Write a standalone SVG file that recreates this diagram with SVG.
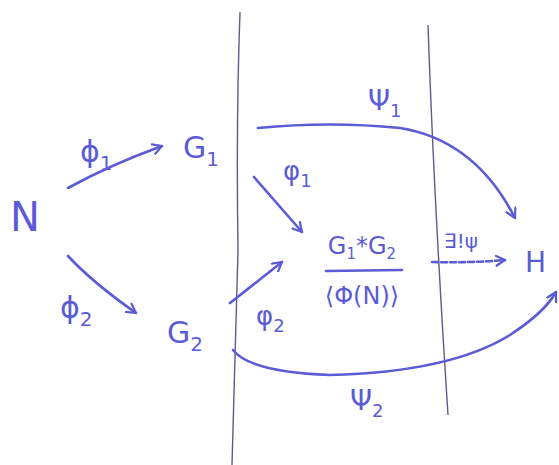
<svg xmlns="http://www.w3.org/2000/svg" width="559" height="465" viewBox="0 0 559 465">
<defs>
<marker id="ah" viewBox="0 0 12 12" refX="10" refY="6" markerWidth="12" markerHeight="12" markerUnits="userSpaceOnUse" orient="auto">
<path d="M1,1 L10,6 L1,11" fill="none" stroke="#5b5bd6" stroke-width="2.2" stroke-linecap="round" stroke-linejoin="round"/>
</marker>
</defs>
<style>
.t{font-family:"DejaVu Sans","Liberation Sans",sans-serif;fill:#5b5bd6;}
.c{fill:none;stroke:#5b5bd6;stroke-width:2.6;stroke-linecap:round;}
.v{fill:none;stroke:#5d5d8a;stroke-width:1.4;}
</style>
<rect width="559" height="465" fill="#ffffff"/>
<g id="borders">
<path class="v" d="M240,12 Q236,120 238,250 Q235,360 232,465"/>
<path class="v" d="M428,25 Q434,200 448,415"/>
</g>
<g id="connectors">
<path class="c" d="M68,188 Q110,165 162,146" marker-end="url(#ah)"/>
<path class="c" d="M68,256 Q92,282 136,313" marker-end="url(#ah)"/>
<path class="c" d="M258,128 Q330,121 400,128 Q475,140 515,218" marker-end="url(#ah)"/>
<path class="c" d="M254,177 L302,232" marker-end="url(#ah)"/>
<path class="c" d="M230,303 L282,262" marker-end="url(#ah)"/>
<path class="c" d="M233,350 Q250,372 330,375 Q450,372 510,335 Q545,312 556,292" marker-end="url(#ah)"/>
<path class="c" d="M432,262 Q470,263 505,260" stroke-dasharray="6,3" marker-end="url(#ah)"/>
<path class="c" d="M326,271 L402,270" stroke-width="2.2"/>
</g>
<g id="N"><text class="t" x="10" y="231" font-size="40">N</text></g>
<g id="G1"><text class="t" x="183" y="158" font-size="30">G<tspan font-size="20" dy="8">1</tspan></text></g>
<g id="G2"><text class="t" x="167" y="343" font-size="30">G<tspan font-size="20" dy="8">2</tspan></text></g>
<g id="H"><text class="t" x="525" y="272" font-size="28">H</text></g>
<g id="quotient">
<text class="t" x="362" y="254" font-size="24" text-anchor="middle">G<tspan font-size="15" dy="5">1</tspan><tspan dy="-5">*G</tspan><tspan font-size="15" dy="5">2</tspan></text>
<text class="t" x="362" y="304" font-size="24" text-anchor="middle">⟨Φ(N)⟩</text>
</g>
<g id="labels">
<text class="t" x="80" y="162" font-size="30">ϕ<tspan font-size="20" dy="8">1</tspan></text>
<text class="t" x="60" y="318" font-size="30">ϕ<tspan font-size="20" dy="8">2</tspan></text>
<text class="t" x="283" y="180" font-size="26">φ<tspan font-size="18" dy="7">1</tspan></text>
<text class="t" x="256" y="325" font-size="26">φ<tspan font-size="18" dy="7">2</tspan></text>
<text class="t" x="368" y="110" font-size="28">Ψ<tspan font-size="18" dy="7">1</tspan></text>
<text class="t" x="350" y="410" font-size="28">Ψ<tspan font-size="18" dy="7">2</tspan></text>
<text class="t" x="444" y="248" font-size="20">∃!ψ</text>
</g>
</svg>
